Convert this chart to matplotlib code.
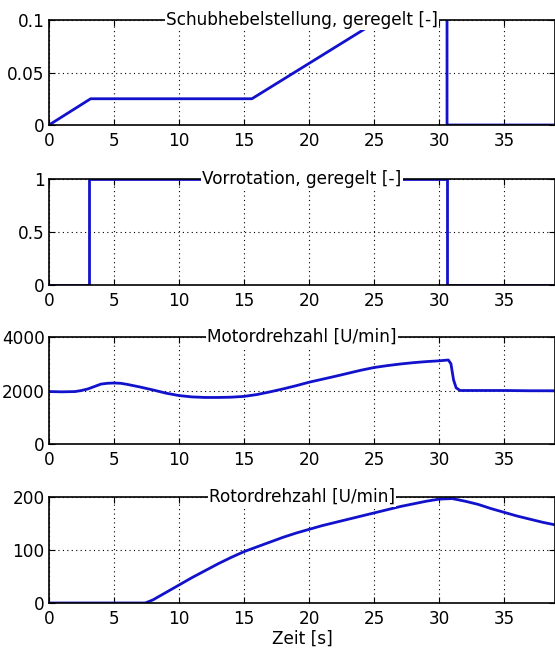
import matplotlib
matplotlib.use("Agg")
import matplotlib.pyplot as plt

plt.rcParams["font.family"] = ["DejaVu Sans"]

# Schubhebelstellung, geregelt [-]
t_schub = [0.0, 3.2, 15.6, 30.6, 30.6, 39.0]
v_schub = [0.0, 0.025, 0.025, 0.140, 0.0, 0.0]

# Vorrotation, geregelt [-]
t_vorrot = [0.0, 3.1, 3.1, 30.6, 30.6, 39.0]
v_vorrot = [0.0, 0.0, 1.0, 1.0, 0.0, 0.0]

# Motordrehzahl [U/min]
t_motor = [0.0, 1.0, 2.0, 2.5, 3.0, 3.5, 4.0, 4.5, 5.0, 5.5, 6.0, 7.0, 8.0,
           9.0, 10.0, 11.0, 12.0, 13.0, 14.0, 15.0, 16.0, 17.0, 18.0, 19.0,
           20.0, 22.0, 24.0, 25.0, 26.0, 27.0, 28.0, 29.0, 30.0, 30.7, 30.9,
           31.0, 31.1, 31.3, 31.6, 33.0, 35.0, 37.0, 39.0]
v_motor = [1960, 1950, 1960, 2000, 2060, 2150, 2240, 2270, 2280, 2270, 2230,
           2130, 2020, 1900, 1810, 1760, 1740, 1740, 1750, 1780, 1850, 1950,
           2060, 2180, 2310, 2530, 2760, 2860, 2930, 2990, 3040, 3080, 3110,
           3140, 3000, 2700, 2400, 2100, 2000, 2000, 2000, 1990, 1990]

# Rotordrehzahl [U/min]
t_rotor = [0.0, 7.4, 8.0, 9.0, 10.0, 11.0, 12.0, 13.0, 14.0, 15.0, 16.0,
           17.0, 18.0, 19.0, 20.0, 21.0, 22.0, 23.0, 24.0, 25.0, 26.0, 27.0,
           28.0, 29.0, 30.0, 31.0, 32.0, 33.0, 34.0, 35.0, 36.0, 37.0, 38.0,
           39.0]
v_rotor = [0, 0, 6, 20, 34, 48, 61, 74, 86, 97, 106, 115, 124, 132, 139, 146,
           152, 158, 164, 170, 176, 182, 187, 192, 196, 197, 192, 186, 178,
           171, 164, 158, 152, 147]

panels = [
    (t_schub, v_schub, "Schubhebelstellung, geregelt [-]", (0, 0.1),
     [0, 0.05, 0.1], ["0", "0.05", "0.1"]),
    (t_vorrot, v_vorrot, "Vorrotation, geregelt [-]", (0, 1),
     [0, 0.5, 1], ["0", "0.5", "1"]),
    (t_motor, v_motor, "Motordrehzahl [U/min]", (0, 4000),
     [0, 2000, 4000], ["0", "2000", "4000"]),
    (t_rotor, v_rotor, "Rotordrehzahl [U/min]", (0, 200),
     [0, 100, 200], ["0", "100", "200"]),
]

W, H = 555, 649
# (top, bottom) in pixels for each panel
rows_px = [(20, 125), (179, 285), (337, 444), (497, 603)]
left_px, right_px = 49, 555

fig = plt.figure(figsize=(W / 100, H / 100), dpi=100)
fs = 12.2
xticks = [0, 5, 10, 15, 20, 25, 30, 35]

for (t, v, title, ylim, yt, ytl), (top, bot) in zip(panels, rows_px):
    ax = fig.add_axes([left_px / W, (H - bot) / H,
                       (right_px - left_px) / W, (bot - top) / H])
    ax.plot(t, v, color="#1212cc", lw=2.0)
    ax.set_xlim(0, 38.9)
    ax.set_ylim(*ylim)
    ax.set_xticks(xticks)
    ax.set_xticklabels([str(x) for x in xticks])
    ax.set_yticks(yt)
    ax.set_yticklabels(ytl)
    ax.tick_params(direction="in", length=4, width=0.8, labelsize=fs,
                   top=True, right=True, colors="black")
    ax.tick_params(axis="x", pad=5)
    ax.tick_params(axis="y", pad=3)
    ax.grid(True, color="#000000", ls=(0, (1, 3)), lw=0.8)
    for sp in ax.spines.values():
        sp.set_linewidth(1.2)
        sp.set_zorder(3)
    ax.text(0.5, 1.0, title, transform=ax.transAxes, ha="center",
            va="center", fontsize=fs, zorder=5,
            bbox=dict(facecolor="white", edgecolor="none", pad=1.0))
    last = ax

last.set_xlabel("Zeit [s]", fontsize=fs, labelpad=1)

fig.savefig("out.png", dpi=100)
